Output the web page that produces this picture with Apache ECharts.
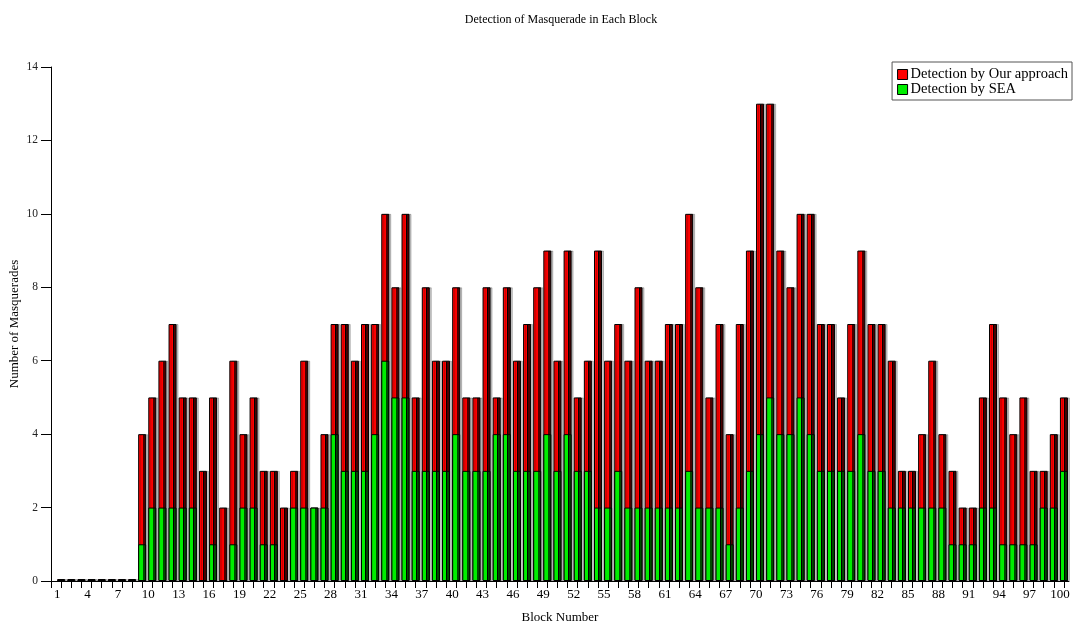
<!DOCTYPE html>
<html>
<head>
<meta charset="utf-8">
<script src="https://cdn.jsdelivr.net/npm/echarts@6/dist/echarts.min.js"></script>
<style>
html,body{margin:0;padding:0;background:#fff;}
#chart{width:1078px;height:629px;}
</style>
</head>
<body>
<div id="chart"></div>
<script>
// Block numbers 1..100 (category labels)
const blocks = Array.from({length: 100}, (_, i) => i + 1);

// Detection by Our approach (total height of red bars)
const ourApproach = [
  0,0,0,0,0,0,0,0,4,5,
  6,7,5,5,3,5,2,6,4,5,
  3,3,2,3,6,2,4,7,7,6,
  7,7,10,8,10,5,8,6,6,8,
  5,5,8,5,8,6,7,8,9,6,
  9,5,6,9,6,7,6,8,6,6,
  7,7,10,8,5,7,4,7,9,13,
  13,9,8,10,10,7,7,5,7,9,
  7,7,6,3,3,4,6,4,3,2,
  2,5,7,5,4,5,3,3,4,5
];

// Detection by SEA (green bars)
const seaDetection = [
  0,0,0,0,0,0,0,0,1,2,
  2,2,2,2,0,1,0,1,2,2,
  1,1,0,2,2,2,2,4,3,3,
  3,4,6,5,5,3,3,3,3,4,
  3,3,3,4,4,3,3,3,4,3,
  4,3,3,2,2,3,2,2,2,2,
  2,2,3,2,2,2,1,2,3,4,
  5,4,4,5,4,3,3,3,3,4,
  3,3,2,2,2,2,2,2,1,1,
  1,2,2,1,1,1,1,2,2,3
];

const seriesNames = ['Detection by Our approach', 'Detection by SEA'];
const yTicks = {min: 0, max: 14, interval: 2};

const chart = echarts.init(document.getElementById('chart'));
const serif = 'Liberation Serif, Times New Roman, serif';

function faceGradient(bright, dark) {
  return new echarts.graphic.LinearGradient(0, 0, 1, 0, [
    {offset: 0, color: bright},
    {offset: 0.55, color: bright},
    {offset: 0.55, color: '#000'},
    {offset: 0.63, color: '#000'},
    {offset: 0.63, color: dark},
    {offset: 1, color: dark}
  ]);
}

const option = {
  animation: false,
  backgroundColor: '#fff',
  title: {
    text: 'Detection of Masquerade in Each Block',
    left: 556,
    textAlign: 'center',
    top: 9,
    textStyle: {fontFamily: serif, fontSize: 12, fontWeight: 'normal', color: '#000'}
  },
  legend: {
    orient: 'vertical',
    right: 6,
    top: 62,
    padding: [5, 4, 3, 5],
    itemWidth: 10,
    itemHeight: 10,
    itemGap: 0,
    borderColor: '#555',
    borderWidth: 1,
    textStyle: {fontFamily: serif, fontSize: 14.5, lineHeight: 13, color: '#000', padding: [0, 0, 0, -2]},
    data: [
      {name: seriesNames[0], icon: 'rect', itemStyle: {color: '#ff0000', borderColor: '#000', borderWidth: 1}},
      {name: seriesNames[1], icon: 'rect', itemStyle: {color: '#00ee00', borderColor: '#000', borderWidth: 1}}
    ]
  },
  grid: {left: 51, right: 9, top: 67, bottom: 48, containLabel: false, outerBoundsMode: 'none'},
  xAxis: {
    type: 'value',
    min: 0,
    max: 100.5,
    interval: 1,
    name: 'Block Number',
    nameLocation: 'middle',
    nameGap: 30,
    nameMoveOverlap: false,
    nameTextStyle: {fontFamily: serif, fontSize: 13, color: '#000'},
    axisLine: {show: true, lineStyle: {color: '#000', width: 1}},
    axisTick: {show: true, length: 7, lineStyle: {color: '#000'}},
    axisLabel: {
      fontFamily: serif, fontSize: 13, color: '#000', margin: 7,
      padding: [0, 8, 0, 0],
      showMaxLabel: false,
      formatter: function (v) {
        return (Number.isInteger(v) && v >= 1 && (v - 1) % 3 === 0) ? String(v) : '';
      }
    },
    splitLine: {show: false}
  },
  yAxis: {
    type: 'value',
    min: yTicks.min,
    max: yTicks.max,
    interval: yTicks.interval,
    name: 'Number of Masquerades',
    nameLocation: 'middle',
    nameGap: 30,
    nameMoveOverlap: false,
    nameTextStyle: {fontFamily: serif, fontSize: 13, color: '#000'},
    axisLine: {show: true, lineStyle: {color: '#000', width: 1}},
    axisTick: {show: true, length: 10, lineStyle: {color: '#000'}},
    axisLabel: {fontFamily: serif, fontSize: 11.5, color: '#222', margin: 13},
    splitLine: {show: false}
  },
  series: [
    {
      name: seriesNames[0],
      type: 'bar',
      barWidth: 8,
      barGap: '-100%',
      barMinHeight: 2,
      z: 2,
      itemStyle: {
        color: faceGradient('#ff0000', '#4a0000'),
        borderColor: '#000',
        borderWidth: 1,
        shadowColor: 'rgba(0,0,0,0.22)',
        shadowOffsetX: 2,
        shadowBlur: 0
      },
      data: blocks.map((b, i) => [b, ourApproach[i]])
    },
    {
      name: seriesNames[1],
      type: 'bar',
      barWidth: 8,
      barGap: '-100%',
      z: 3,
      itemStyle: {
        color: faceGradient('#00ee00', '#004a00'),
        borderColor: '#000',
        borderWidth: 1
      },
      data: blocks.map((b, i) => [b, seaDetection[i]])
    }
  ]
};
chart.setOption(option);
</script>
</body>
</html>
